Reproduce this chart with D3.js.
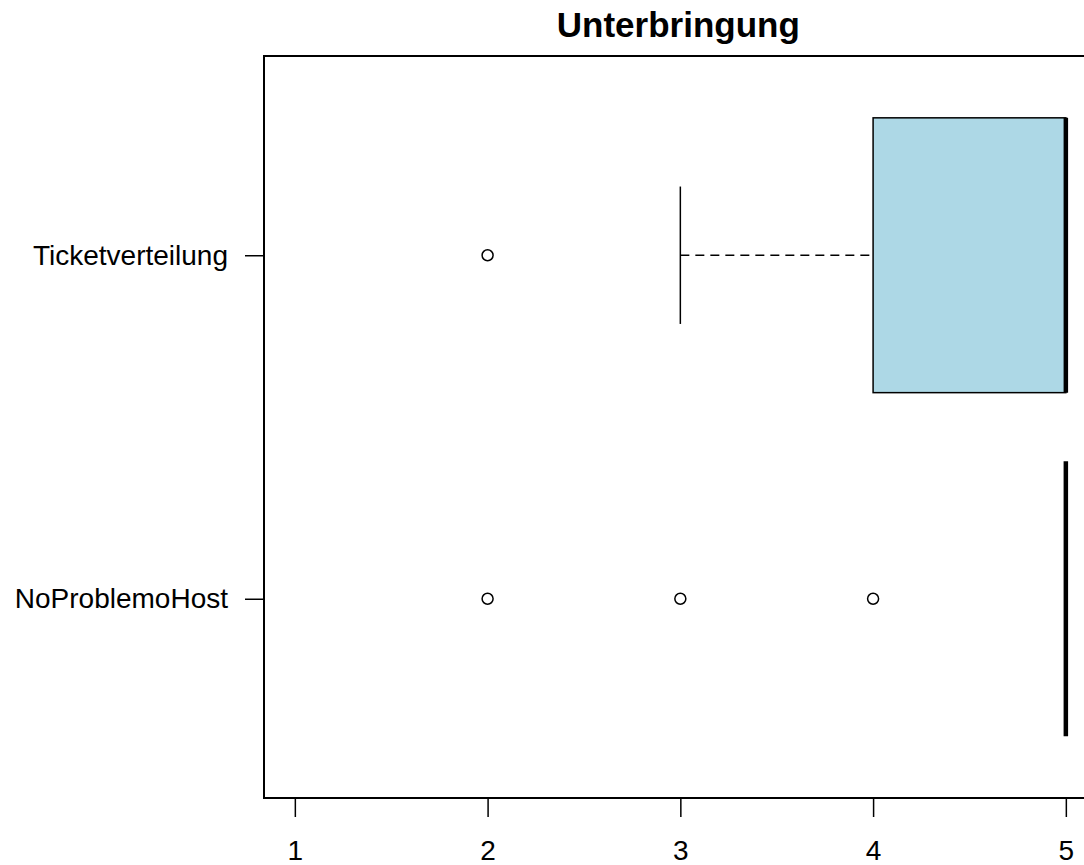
<!DOCTYPE html>
<html>
<head>
<meta charset="utf-8">
<script src="https://cdn.jsdelivr.net/npm/d3@7"></script>
<style>
  body { margin: 0; background: #fff; }
  svg { display: block; }
  text { font-family: "Liberation Sans", Arial, sans-serif; fill: #000; }
</style>
</head>
<body>
<svg id="chart" width="1084" height="865"></svg>
<script>
// Groups, bottom to top
const categories = ["NoProblemoHost", "Ticketverteilung"];
// Five-number summaries per group
const whiskerLow = [5, 3];
const boxLow     = [5, 4];
const medians    = [5, 5];
const boxHigh    = [5, 5];
const whiskerHigh= [5, 5];
// Outliers per group
const outliers = [[2, 3, 4], [2]];
const xTicks = [1, 2, 3, 4, 5];
const title = "Unterbringung";

const svg = d3.select("#chart");
const plotLeft = 264, plotTop = 56, plotBottom = 798;

// Value axis extended by 4% on each side
const x = d3.scaleLinear().domain([0.84, 5.16]).range([plotLeft, plotLeft + (5.16 - 0.84) * 192.75]);
// Group axis: positions 1..n, extended to 0.42..n+0.58
const y = d3.scaleLinear().domain([0.42, 2.58]).range([plotBottom, plotTop]);

const boxHalf = (y(1) - y(1.4));

const data = categories.map((c, i) => ({
  name: c, pos: i + 1,
  wl: whiskerLow[i], q1: boxLow[i], med: medians[i], q3: boxHigh[i], wh: whiskerHigh[i],
  out: outliers[i]
}));

const g = svg.append("g");

data.forEach(d => {
  const cy = y(d.pos);
  // whiskers (dashed) and caps
  if (d.wl < d.q1) {
    g.append("line").attr("x1", x(d.wl)).attr("x2", x(d.q1)).attr("y1", cy).attr("y2", cy)
      .attr("stroke", "#000").attr("stroke-width", 1.5).attr("stroke-dasharray", "9,6");
    g.append("line").attr("x1", x(d.wl)).attr("x2", x(d.wl)).attr("y1", cy - boxHalf / 2).attr("y2", cy + boxHalf / 2)
      .attr("stroke", "#000").attr("stroke-width", 1.5);
  }
  if (d.wh > d.q3) {
    g.append("line").attr("x1", x(d.q3)).attr("x2", x(d.wh)).attr("y1", cy).attr("y2", cy)
      .attr("stroke", "#000").attr("stroke-width", 1.5).attr("stroke-dasharray", "9,6");
    g.append("line").attr("x1", x(d.wh)).attr("x2", x(d.wh)).attr("y1", cy - boxHalf / 2).attr("y2", cy + boxHalf / 2)
      .attr("stroke", "#000").attr("stroke-width", 1.5);
  }
  // box
  g.append("rect")
    .attr("x", x(d.q1)).attr("y", cy - boxHalf)
    .attr("width", x(d.q3) - x(d.q1)).attr("height", 2 * boxHalf)
    .attr("fill", "#ADD8E6").attr("stroke", "#000").attr("stroke-width", 1.5);
  // median
  g.append("line").attr("x1", x(d.med)).attr("x2", x(d.med))
    .attr("y1", cy - boxHalf).attr("y2", cy + boxHalf)
    .attr("stroke", "#000").attr("stroke-width", 4.5);
  // outliers
  g.selectAll(null).data(d.out).enter().append("circle")
    .attr("cx", v => x(v)).attr("cy", cy).attr("r", 5.5)
    .attr("fill", "none").attr("stroke", "#000").attr("stroke-width", 1.5);
});

// plot frame
svg.append("rect").attr("x", plotLeft).attr("y", plotTop)
  .attr("width", x(5.16) - plotLeft).attr("height", plotBottom - plotTop)
  .attr("fill", "none").attr("stroke", "#000").attr("stroke-width", 2);

// x axis
const xa = svg.append("g").attr("transform", `translate(0,${plotBottom})`)
  .call(d3.axisBottom(x).tickValues(xTicks).tickFormat(d3.format("d")).tickSize(19).tickPadding(23));
xa.select(".domain").attr("d", `M${x(1)},0H${x(5)}`).attr("stroke-width", 1.5);
xa.selectAll(".tick line").attr("stroke-width", 1.5);
xa.selectAll("text").style("font-size", "28px").attr("font-family", null);

// y axis
const ya = svg.append("g").attr("transform", `translate(${plotLeft},0)`)
  .call(d3.axisLeft(y).tickValues(data.map(d => d.pos)).tickFormat(p => categories[p - 1]).tickSize(19).tickPadding(17));
ya.select(".domain").remove();
ya.selectAll(".tick line").attr("stroke-width", 1.5);
ya.selectAll("text").style("font-size", "28px").attr("font-family", null);

// title
svg.append("text").attr("x", (plotLeft + x(5.16)) / 2 - 2).attr("y", 37)
  .attr("text-anchor", "middle").style("font-size", "35px").style("font-weight", "bold")
  .text(title);
</script>
</body>
</html>
